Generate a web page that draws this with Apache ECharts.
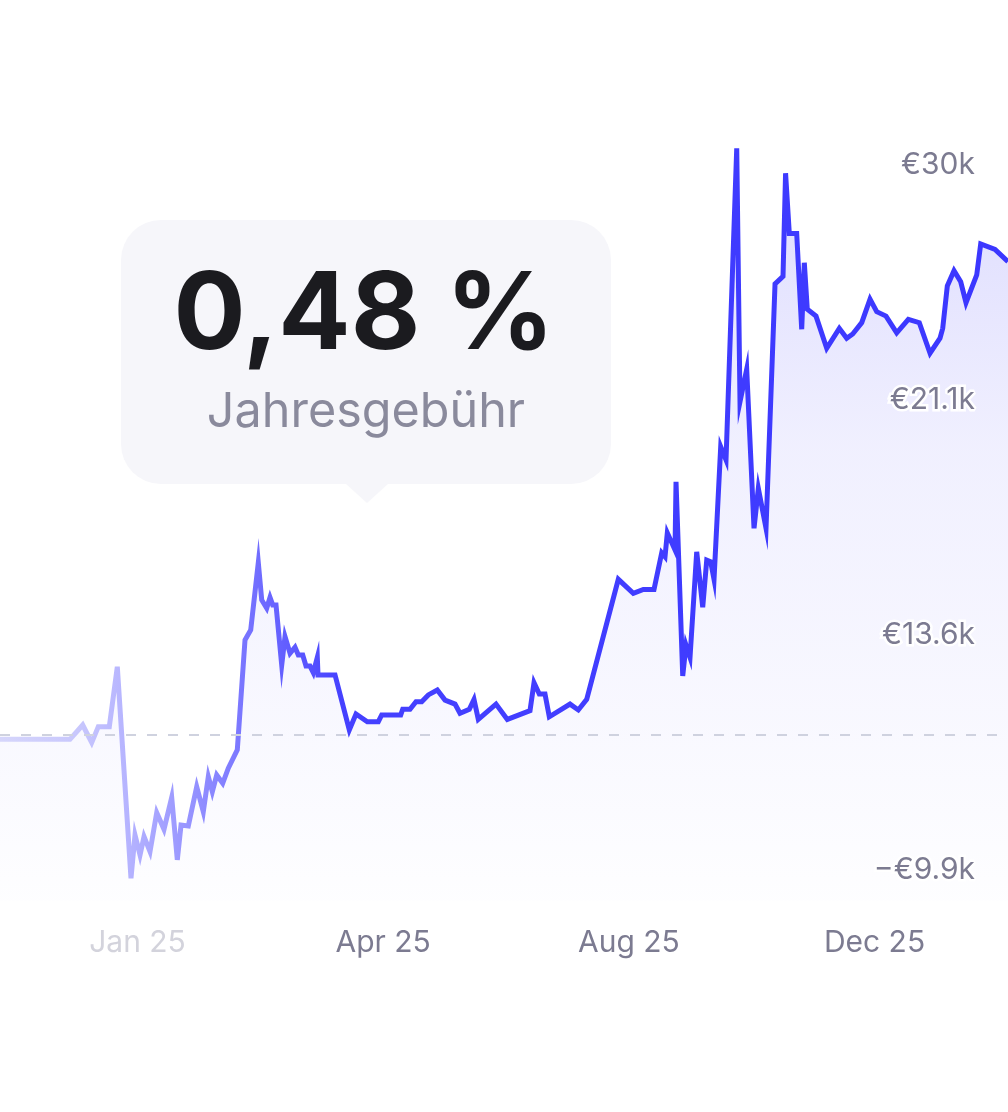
<!DOCTYPE html>
<html>
<head>
<meta charset="utf-8">
<script src="https://cdn.jsdelivr.net/npm/echarts@6/dist/echarts.min.js"></script>
<style>
html,body{margin:0;padding:0;background:#ffffff;}
#chart{width:1008px;height:1112px;}
</style>
</head>
<body>
<div id="chart"></div>
<script>
// ---- data (x: timeline position, Jan 25 = 0, each label step = 100; y: value on index scale) ----
const xValues = [-55.97,-27.48,-22.31,-18.64,-15.96,-11.48,-8.22,-2.65,-1.02,1.02,2.65,5.09,7.82,10.79,13.92,16.20,17.71,20.68,24.10,26.78,28.82,30.45,32.24,34.68,36.96,40.62,43.76,46.08,49.17,50.56,52.59,53.93,55.03,56.38,58.70,60.04,62.08,64.11,65.45,67.25,68.59,70.22,71.56,73.19,73.47,80.40,86.21,88.94,93.54,98.02,99.40,107.14,107.95,110.92,113.36,115.68,118.37,122.03,125.17,129.24,131.27,135.06,136.97,138.72,145.93,150.53,159.77,161.40,163.55,165.87,167.62,176.05,179.43,182.85,195.71,201.82,205.89,210.24,213.38,214.72,215.66,218.79,219.20,221.93,223.27,224.90,227.62,230.07,231.70,233.32,234.67,237.39,239.55,243.91,245.24,247.97,250.95,252.70,255.83,259.50,262.75,263.79,265.31,268.32,270.36,271.42,272.64,276.18,280.54,285.67,288.68,291.12,294.79,298.17,300.89,304.68,309.03,313.76,318.23,322.59,326.66,327.76,329.63,332.36,335.08,337.24,341.60,343.22,349.04,354.33];
const yValues = [55.6,55.6,61.7,54.2,61.0,61.0,86.5,-3.5,14.9,6.4,14.2,7.8,24.4,17.3,30.9,4.3,19.1,18.7,35.4,24.8,39.7,33.3,40.4,36.9,43.3,51.1,97.9,102.1,130.8,114.9,111.4,116.0,112.8,112.8,87.2,99.3,92.2,94.8,91.5,91.5,86.8,86.8,84.0,90.5,83.0,83.0,59.6,66.4,63.1,63.1,66.0,66.0,68.4,68.4,71.6,71.6,74.5,76.6,72.3,70.6,66.7,68.4,72.6,64.1,70.6,64.1,67.8,79.7,74.9,74.9,65.2,70.6,68.1,72.6,123.7,117.7,119.4,119.4,135.0,133.3,143.5,136.2,165.2,82.6,95.7,90.5,135.4,111.8,131.9,131.2,123.7,180.1,174.5,307.1,199.3,213.1,145.4,162.4,145.4,249.4,252.6,296.5,270.9,270.9,230.1,258.4,238.6,235.7,222.0,230.5,226.3,228.1,232.9,242.9,237.6,235.7,228.6,234.3,232.9,219.9,226.3,230.5,248.5,255.0,250.3,241.4,253.2,266.4,264.1,258.9];
const baselineValue = 57.4;

const xTickValues = [0, 100, 200, 300];
const xTickLabels = ['Jan 25', 'Apr 25', 'Aug 25', 'Dec 25'];
const yTickValues = [0, 100, 200, 300];
const yTickLabels = ['\u2212€9.9k', '€13.6k', '€21.1k', '€30k'];

const feeValue = '0,48 %';
const feeLabel = 'Jahresgebühr';

// ---- chart ----
const seriesData = xValues.map((x, i) => [x, yValues[i]]);
const FONT = 'Inter, "Noto Sans", sans-serif';

const chart = echarts.init(document.getElementById('chart'), null, {renderer: 'canvas'});
chart.setOption({
  animation: false,
  backgroundColor: '#ffffff',
  grid: {left: 0, right: 0, top: 139.15, bottom: 211.45, containLabel: false},
  xAxis: {
    type: 'value',
    min: -55.97,
    max: 354.33,
    axisLine: {show: false},
    axisTick: {show: false},
    splitLine: {show: false},
    axisLabel: {
      customValues: xTickValues,
      margin: 27,
      fontFamily: FONT,
      fontSize: 30,
      color: '#7c7b91',
      formatter: function (v) {
        const i = xTickValues.indexOf(v);
        const t = i >= 0 ? xTickLabels[i] : '';
        return i === 0 ? '{faded|' + t + '}' : t;
      },
      rich: {faded: {color: '#d3d3dc', fontFamily: FONT, fontSize: 30}}
    }
  },
  yAxis: {
    type: 'value',
    position: 'right',
    min: -13,
    max: 311,
    z: 10,
    axisLine: {show: false},
    axisTick: {show: false},
    splitLine: {show: false},
    axisLabel: {
      customValues: yTickValues,
      inside: true,
      margin: 33,
      fontFamily: FONT,
      fontSize: 30,
      color: '#7c7b91',
      textBorderColor: '#ffffff',
      textBorderWidth: 5,
      padding: [5, 0, 0, 0],
      formatter: function (v) {
        const i = yTickValues.indexOf(v);
        return i >= 0 ? yTickLabels[i] : '';
      }
    }
  },
  series: [{
    type: 'line',
    data: seriesData,
    showSymbol: false,
    symbol: 'none',
    lineStyle: {
      width: 5,
      join: 'miter',
      color: new echarts.graphic.LinearGradient(0, 0, 1, 0, [
        {offset: 0, color: '#d6d6fb'},
        {offset: 0.08, color: '#c8c7fd'},
        {offset: 0.13, color: '#b5b3ff'},
        {offset: 0.2, color: '#918eff'},
        {offset: 0.27, color: '#6a66ff'},
        {offset: 0.34, color: '#4541ff'},
        {offset: 1, color: '#3b37ff'}
      ])
    },
    areaStyle: {
      origin: 'start',
      color: new echarts.graphic.LinearGradient(0, 0, 0, 1, [
        {offset: 0, color: 'rgba(92, 86, 250, 0.30)'},
        {offset: 0.4, color: 'rgba(92, 86, 250, 0.13)'},
        {offset: 1, color: 'rgba(92, 86, 250, 0.01)'}
      ])
    },
    markLine: {
      silent: true,
      symbol: ['none', 'none'],
      label: {show: false},
      lineStyle: {color: '#cfd2df', width: 2, type: [10, 11]},
      data: [{yAxis: baselineValue}]
    }
  }],
  graphic: [
    {
      type: 'group',
      z: 100,
      children: [
        {
          type: 'rect',
          shape: {x: 121, y: 220, width: 490, height: 264, r: 40},
          style: {fill: '#f6f6fa'}
        },
        {
          type: 'polygon',
          shape: {points: [[345, 483], [389, 483], [367, 503]]},
          style: {fill: '#f6f6fa'}
        },
        {
          type: 'text',
          x: 364, y: 317,
          style: {
            text: feeValue,
            fontFamily: FONT,
            fontWeight: 'bold',
            fontSize: 107,
            fill: '#1b1b1f',
            textAlign: 'center',
            textVerticalAlign: 'middle'
          }
        },
        {
          type: 'text',
          x: 366, y: 412,
          style: {
            text: feeLabel,
            fontFamily: FONT,
            fontSize: 48.5,
            fill: '#8a8a9c',
            textAlign: 'center',
            textVerticalAlign: 'middle'
          }
        }
      ]
    }
  ]
});
</script>
</body>
</html>
